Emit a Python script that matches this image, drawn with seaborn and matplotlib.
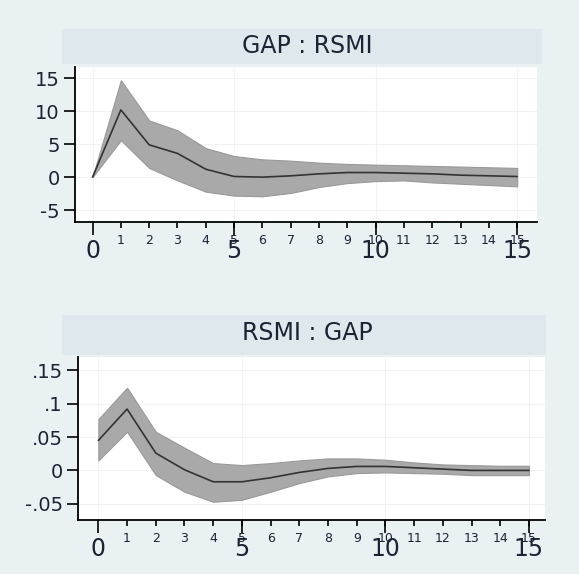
import numpy as np
import pandas as pd
import matplotlib
matplotlib.use('Agg')
import matplotlib.pyplot as plt
import seaborn as sns
from matplotlib.patches import Rectangle

steps = list(range(16))

# GAP : RSMI impulse response with confidence band
gap_rsmi_irf = [0, 10.2, 4.9, 3.6, 1.2, 0.1, 0.0, 0.2, 0.5, 0.7, 0.7, 0.6, 0.5, 0.3, 0.2, 0.1]
gap_rsmi_hi = [0, 14.7, 8.6, 7.1, 4.4, 3.2, 2.7, 2.5, 2.2, 2.0, 1.9, 1.8, 1.7, 1.6, 1.5, 1.4]
gap_rsmi_lo = [0, 5.6, 1.4, -0.5, -2.2, -2.8, -2.9, -2.4, -1.5, -0.9, -0.6, -0.5, -0.8, -1.0, -1.2, -1.4]

# RSMI : GAP impulse response with confidence band
rsmi_gap_irf = [0.045, 0.092, 0.026, 0.001, -0.017, -0.017, -0.011, -0.003, 0.003, 0.006, 0.006, 0.004, 0.002, 0.0, 0.0, 0.0]
rsmi_gap_hi = [0.077, 0.124, 0.058, 0.034, 0.011, 0.008, 0.011, 0.015, 0.018, 0.018, 0.016, 0.012, 0.009, 0.008, 0.007, 0.007]
rsmi_gap_lo = [0.015, 0.058, -0.007, -0.032, -0.047, -0.044, -0.032, -0.019, -0.009, -0.004, -0.003, -0.004, -0.005, -0.007, -0.007, -0.007]

gap_yticks = [-5, 0, 5, 10, 15]
gap_ylabels = ['-5', '0', '5', '10', '15']
rsmi_yticks = [-0.05, 0, 0.05, 0.1, 0.15]
rsmi_ylabels = ['-.05', '0', '.05', '.1', '.15']
big_xticks = [0, 5, 10, 15]
small_xticks = steps[1:]

bg = '#e9f1f3'
band_bg = '#dfe8ec'
txt = '#1c2333'

sns.set_theme(style="ticks")
plt.rcParams['font.family'] = ['DejaVu Sans']

fig = plt.figure(figsize=(5.79, 5.74), dpi=100, facecolor=bg)

panels = [
    dict(title='GAP : RSMI', irf=gap_rsmi_irf, hi=gap_rsmi_hi, lo=gap_rsmi_lo,
         yt=gap_yticks, yl=gap_ylabels, ylim=(-6.8, 16.7), xlim=(-0.62, 15.7),
         rect=[75/579, 1-222/574, 462/579, 155/574], band=(62, 29, 480, 35), ty=46),
    dict(title='RSMI : GAP', irf=rsmi_gap_irf, hi=rsmi_gap_hi, lo=rsmi_gap_lo,
         yt=rsmi_yticks, yl=rsmi_ylabels, ylim=(-0.0743, 0.170), xlim=(-0.71, 15.56),
         rect=[78/579, 1-520/574, 467/579, 163/574], band=(62, 315, 484, 40), ty=333),
]

for p in panels:
    # title band behind the header
    bx, by, bw, bh = p['band']
    fig.patches.append(Rectangle((bx/579, 1-(by+bh)/574), bw/579, bh/574,
                                 transform=fig.transFigure, facecolor=band_bg,
                                 edgecolor='none', zorder=0))
    fig.text(0.53, 1-p['ty']/574, p['title'], ha='center', va='center',
             fontsize=17, color=txt)

    ax = fig.add_axes(p['rect'])
    ax.set_facecolor('white')
    df = pd.DataFrame({'step': steps, 'irf': p['irf'], 'hi': p['hi'], 'lo': p['lo']})
    ax.fill_between(df['step'], df['lo'], df['hi'], color='#a9a9a9',
                    edgecolor='#999999', linewidth=0.8, zorder=2)
    sns.lineplot(x='step', y='irf', data=df, ax=ax, color='#333333',
                 linewidth=1.2, zorder=3)

    ax.set_xlim(*p['xlim'])
    ax.set_ylim(*p['ylim'])
    ax.set_xlabel('')
    ax.set_ylabel('')
    ax.set_yticks(p['yt'], p['yl'])
    ax.xaxis.remove_overlapping_locs = False
    ax.set_xticks(big_xticks, [str(t) for t in big_xticks])
    ax.set_xticks(small_xticks, [str(t) for t in small_xticks], minor=True)
    ax.tick_params(axis='x', which='major', length=9, width=1.2, pad=3,
                   labelsize=17, colors='black', labelcolor=txt)
    ax.tick_params(axis='x', which='minor', length=4, width=1.2, pad=5,
                   labelsize=9, colors='black', labelcolor=txt)
    ax.tick_params(axis='y', length=8, width=1.2, pad=3, labelsize=14,
                   colors='black', labelcolor=txt)
    ax.grid(True, which='major', color='#f2f2f2', linewidth=0.8, zorder=0)
    for s in ['left', 'bottom']:
        ax.spines[s].set_linewidth(1.3)
        ax.spines[s].set_color('black')
    sns.despine(ax=ax)

plt.savefig('out.png', dpi=100, facecolor=bg)
